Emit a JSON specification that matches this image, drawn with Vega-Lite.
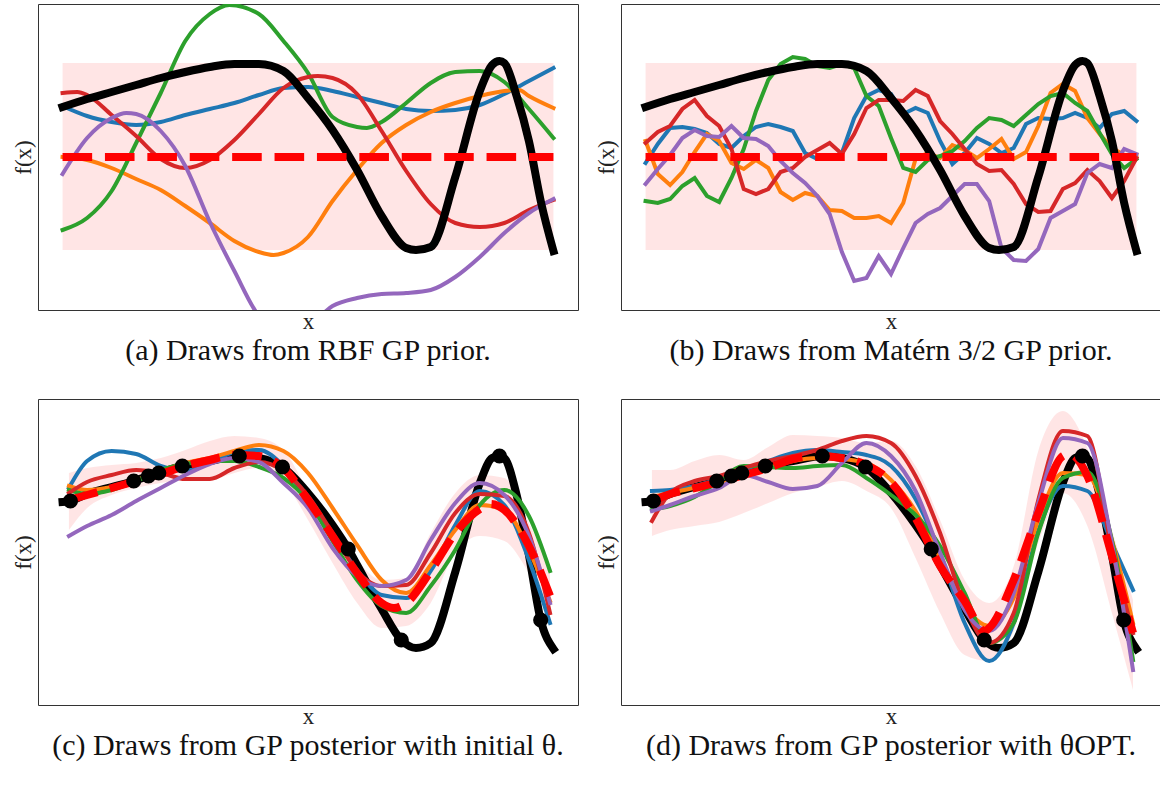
{
"$schema": "https://vega.github.io/schema/vega-lite/v6.json",
"background": "white",
"padding": {"left": 11, "top": 3, "right": 0, "bottom": 0},
"config": {
  "view": {"stroke": "#333", "strokeWidth": 1},
  "axis": {"ticks": false, "labels": false, "domain": false, "grid": false, "titleFont": "Liberation Serif", "titleFontSize": 23, "titleFontWeight": "normal", "titleColor": "#222"},
  "title": {"font": "Liberation Serif", "fontSize": 30, "fontWeight": "normal", "color": "#111", "orient": "bottom", "frame": "group", "anchor": "middle", "offset": 3}
},
"datasets": {
  "prior_band": [{"x":0,"y":60,"y2":247},{"x":1,"y":60,"y2":247}],
  "prior_mean": [{"x":0,"y":153},{"x":1,"y":153}],
  "prior_black": [{"x":0,"y":203},{"x":0.05,"y":211},{"x":0.1,"y":218},{"x":0.15,"y":225},{"x":0.2,"y":232},{"x":0.25,"y":238},{"x":0.3,"y":243},{"x":0.35,"y":246},{"x":0.4,"y":246},{"x":0.45,"y":239},{"x":0.5,"y":212},{"x":0.55,"y":180},{"x":0.6,"y":140},{"x":0.65,"y":94},{"x":0.7,"y":62},{"x":0.72,"y":60},{"x":0.75,"y":63},{"x":0.8,"y":133},{"x":0.85,"y":219},{"x":0.875,"y":245},{"x":0.89,"y":249},{"x":0.9,"y":247},{"x":0.925,"y":214},{"x":0.95,"y":169},{"x":0.975,"y":107},{"x":1,"y":59}],
  "a": [
    {"s":"1","x":0,"y":204},{"s":"1","x":0.05,"y":194},{"s":"1","x":0.1,"y":188},{"s":"1","x":0.15,"y":185},{"s":"1","x":0.2,"y":188},{"s":"1","x":0.25,"y":195},{"s":"1","x":0.3,"y":201},{"s":"1","x":0.35,"y":207},{"s":"1","x":0.4,"y":215},{"s":"1","x":0.45,"y":222},{"s":"1","x":0.5,"y":223},{"s":"1","x":0.55,"y":219},{"s":"1","x":0.6,"y":213},{"s":"1","x":0.65,"y":207},{"s":"1","x":0.7,"y":201},{"s":"1","x":0.75,"y":199},{"s":"1","x":0.8,"y":200},{"s":"1","x":0.85,"y":205},{"s":"1","x":0.9,"y":216},{"s":"1","x":0.95,"y":229},{"s":"1","x":1,"y":242},
    {"s":"2","x":0,"y":153},{"s":"2","x":0.05,"y":150},{"s":"2","x":0.1,"y":142},{"s":"2","x":0.15,"y":131},{"s":"2","x":0.2,"y":120},{"s":"2","x":0.25,"y":104},{"s":"2","x":0.3,"y":87},{"s":"2","x":0.35,"y":69},{"s":"2","x":0.4,"y":58},{"s":"2","x":0.43,"y":55},{"s":"2","x":0.45,"y":57},{"s":"2","x":0.5,"y":73},{"s":"2","x":0.55,"y":109},{"s":"2","x":0.6,"y":140},{"s":"2","x":0.65,"y":167},{"s":"2","x":0.7,"y":185},{"s":"2","x":0.75,"y":198},{"s":"2","x":0.8,"y":207},{"s":"2","x":0.85,"y":214},{"s":"2","x":0.9,"y":219},{"s":"2","x":0.93,"y":220},{"s":"2","x":0.95,"y":214},{"s":"2","x":1,"y":202},
    {"s":"3","x":0,"y":80},{"s":"3","x":0.05,"y":92},{"s":"3","x":0.1,"y":119},{"s":"3","x":0.15,"y":167},{"s":"3","x":0.2,"y":217},{"s":"3","x":0.25,"y":269},{"s":"3","x":0.3,"y":296},{"s":"3","x":0.34,"y":305},{"s":"3","x":0.4,"y":296},{"s":"3","x":0.45,"y":269},{"s":"3","x":0.5,"y":237},{"s":"3","x":0.55,"y":193},{"s":"3","x":0.6,"y":183},{"s":"3","x":0.62,"y":182},{"s":"3","x":0.65,"y":188},{"s":"3","x":0.7,"y":207},{"s":"3","x":0.75,"y":227},{"s":"3","x":0.8,"y":238},{"s":"3","x":0.85,"y":239},{"s":"3","x":0.9,"y":228},{"s":"3","x":0.95,"y":201},{"s":"3","x":1,"y":172},
    {"s":"4","x":0,"y":217},{"s":"4","x":0.03,"y":218},{"s":"4","x":0.05,"y":215},{"s":"4","x":0.1,"y":195},{"s":"4","x":0.15,"y":174},{"s":"4","x":0.2,"y":151},{"s":"4","x":0.25,"y":142},{"s":"4","x":0.3,"y":150},{"s":"4","x":0.35,"y":170},{"s":"4","x":0.4,"y":196},{"s":"4","x":0.45,"y":222},{"s":"4","x":0.5,"y":233},{"s":"4","x":0.52,"y":234},{"s":"4","x":0.55,"y":232},{"s":"4","x":0.6,"y":216},{"s":"4","x":0.65,"y":179},{"s":"4","x":0.7,"y":139},{"s":"4","x":0.75,"y":106},{"s":"4","x":0.8,"y":87},{"s":"4","x":0.85,"y":83},{"s":"4","x":0.9,"y":87},{"s":"4","x":0.95,"y":100},{"s":"4","x":1,"y":110},
    {"s":"5","x":0,"y":136},{"s":"5","x":0.05,"y":172},{"s":"5","x":0.1,"y":192},{"s":"5","x":0.13,"y":197},{"s":"5","x":0.15,"y":196},{"s":"5","x":0.2,"y":179},{"s":"5","x":0.25,"y":144},{"s":"5","x":0.3,"y":88},{"s":"5","x":0.35,"y":39},{"s":"5","x":0.4,"y":-6},{"s":"5","x":0.45,"y":-21},{"s":"5","x":0.5,"y":-16},{"s":"5","x":0.55,"y":4},{"s":"5","x":0.6,"y":12},{"s":"5","x":0.65,"y":16},{"s":"5","x":0.7,"y":17},{"s":"5","x":0.75,"y":20},{"s":"5","x":0.8,"y":33},{"s":"5","x":0.85,"y":53},{"s":"5","x":0.9,"y":77},{"s":"5","x":0.95,"y":97},{"s":"5","x":1,"y":111}
  ],
  "b": [
    {"s":"1","x":0,"y":147},{"s":"1","x":0.025,"y":166},{"s":"1","x":0.05,"y":182},{"s":"1","x":0.075,"y":183},{"s":"1","x":0.1,"y":181},{"s":"1","x":0.125,"y":177},{"s":"1","x":0.15,"y":166},{"s":"1","x":0.175,"y":162},{"s":"1","x":0.2,"y":174},{"s":"1","x":0.225,"y":183},{"s":"1","x":0.25,"y":186},{"s":"1","x":0.275,"y":183},{"s":"1","x":0.3,"y":179},{"s":"1","x":0.325,"y":157},{"s":"1","x":0.35,"y":151},{"s":"1","x":0.375,"y":152},{"s":"1","x":0.4,"y":157},{"s":"1","x":0.425,"y":192},{"s":"1","x":0.45,"y":214},{"s":"1","x":0.475,"y":220},{"s":"1","x":0.5,"y":216},{"s":"1","x":0.525,"y":196},{"s":"1","x":0.55,"y":202},{"s":"1","x":0.575,"y":197},{"s":"1","x":0.6,"y":169},{"s":"1","x":0.625,"y":146},{"s":"1","x":0.65,"y":157},{"s":"1","x":0.675,"y":172},{"s":"1","x":0.7,"y":166},{"s":"1","x":0.725,"y":157},{"s":"1","x":0.75,"y":162},{"s":"1","x":0.775,"y":186},{"s":"1","x":0.8,"y":192},{"s":"1","x":0.825,"y":191},{"s":"1","x":0.85,"y":192},{"s":"1","x":0.875,"y":197},{"s":"1","x":0.9,"y":192},{"s":"1","x":0.925,"y":182},{"s":"1","x":0.95,"y":196},{"s":"1","x":0.975,"y":199},{"s":"1","x":1,"y":189},
    {"s":"2","x":0,"y":169},{"s":"2","x":0.025,"y":136},{"s":"2","x":0.05,"y":125},{"s":"2","x":0.075,"y":138},{"s":"2","x":0.1,"y":158},{"s":"2","x":0.125,"y":176},{"s":"2","x":0.15,"y":169},{"s":"2","x":0.175,"y":147},{"s":"2","x":0.2,"y":141},{"s":"2","x":0.225,"y":150},{"s":"2","x":0.25,"y":142},{"s":"2","x":0.275,"y":118},{"s":"2","x":0.3,"y":110},{"s":"2","x":0.325,"y":117},{"s":"2","x":0.35,"y":114},{"s":"2","x":0.375,"y":100},{"s":"2","x":0.4,"y":99},{"s":"2","x":0.425,"y":92},{"s":"2","x":0.45,"y":92},{"s":"2","x":0.475,"y":94},{"s":"2","x":0.5,"y":87},{"s":"2","x":0.525,"y":107},{"s":"2","x":0.55,"y":151},{"s":"2","x":0.575,"y":157},{"s":"2","x":0.6,"y":152},{"s":"2","x":0.625,"y":165},{"s":"2","x":0.65,"y":160},{"s":"2","x":0.675,"y":152},{"s":"2","x":0.7,"y":161},{"s":"2","x":0.725,"y":171},{"s":"2","x":0.75,"y":151},{"s":"2","x":0.775,"y":158},{"s":"2","x":0.8,"y":184},{"s":"2","x":0.825,"y":217},{"s":"2","x":0.85,"y":226},{"s":"2","x":0.875,"y":219},{"s":"2","x":0.9,"y":192},{"s":"2","x":0.925,"y":176},{"s":"2","x":0.95,"y":162},{"s":"2","x":0.975,"y":155},{"s":"2","x":1,"y":155},
    {"s":"3","x":0,"y":109},{"s":"3","x":0.025,"y":107},{"s":"3","x":0.05,"y":111},{"s":"3","x":0.075,"y":124},{"s":"3","x":0.1,"y":132},{"s":"3","x":0.125,"y":114},{"s":"3","x":0.15,"y":108},{"s":"3","x":0.175,"y":132},{"s":"3","x":0.2,"y":161},{"s":"3","x":0.225,"y":199},{"s":"3","x":0.25,"y":230},{"s":"3","x":0.275,"y":246},{"s":"3","x":0.3,"y":253},{"s":"3","x":0.325,"y":251},{"s":"3","x":0.35,"y":244},{"s":"3","x":0.375,"y":242},{"s":"3","x":0.4,"y":246},{"s":"3","x":0.425,"y":242},{"s":"3","x":0.45,"y":214},{"s":"3","x":0.475,"y":204},{"s":"3","x":0.5,"y":172},{"s":"3","x":0.525,"y":142},{"s":"3","x":0.55,"y":138},{"s":"3","x":0.575,"y":150},{"s":"3","x":0.6,"y":154},{"s":"3","x":0.625,"y":159},{"s":"3","x":0.65,"y":169},{"s":"3","x":0.675,"y":182},{"s":"3","x":0.7,"y":192},{"s":"3","x":0.725,"y":190},{"s":"3","x":0.75,"y":184},{"s":"3","x":0.775,"y":195},{"s":"3","x":0.8,"y":206},{"s":"3","x":0.825,"y":214},{"s":"3","x":0.85,"y":217},{"s":"3","x":0.875,"y":207},{"s":"3","x":0.9,"y":199},{"s":"3","x":0.925,"y":177},{"s":"3","x":0.95,"y":156},{"s":"3","x":0.975,"y":142},{"s":"3","x":1,"y":151},
    {"s":"4","x":0,"y":167},{"s":"4","x":0.025,"y":178},{"s":"4","x":0.05,"y":184},{"s":"4","x":0.075,"y":201},{"s":"4","x":0.1,"y":210},{"s":"4","x":0.125,"y":194},{"s":"4","x":0.15,"y":184},{"s":"4","x":0.175,"y":161},{"s":"4","x":0.2,"y":121},{"s":"4","x":0.225,"y":116},{"s":"4","x":0.25,"y":121},{"s":"4","x":0.275,"y":138},{"s":"4","x":0.3,"y":142},{"s":"4","x":0.325,"y":153},{"s":"4","x":0.35,"y":160},{"s":"4","x":0.375,"y":167},{"s":"4","x":0.4,"y":156},{"s":"4","x":0.425,"y":176},{"s":"4","x":0.45,"y":202},{"s":"4","x":0.475,"y":210},{"s":"4","x":0.5,"y":210},{"s":"4","x":0.525,"y":209},{"s":"4","x":0.55,"y":220},{"s":"4","x":0.575,"y":214},{"s":"4","x":0.6,"y":189},{"s":"4","x":0.625,"y":176},{"s":"4","x":0.65,"y":161},{"s":"4","x":0.675,"y":146},{"s":"4","x":0.7,"y":139},{"s":"4","x":0.725,"y":140},{"s":"4","x":0.75,"y":126},{"s":"4","x":0.775,"y":106},{"s":"4","x":0.8,"y":98},{"s":"4","x":0.825,"y":99},{"s":"4","x":0.85,"y":121},{"s":"4","x":0.875,"y":127},{"s":"4","x":0.9,"y":140},{"s":"4","x":0.925,"y":129},{"s":"4","x":0.95,"y":112},{"s":"4","x":0.975,"y":129},{"s":"4","x":1,"y":152},
    {"s":"5","x":0,"y":126},{"s":"5","x":0.025,"y":141},{"s":"5","x":0.05,"y":155},{"s":"5","x":0.075,"y":172},{"s":"5","x":0.1,"y":180},{"s":"5","x":0.125,"y":174},{"s":"5","x":0.15,"y":173},{"s":"5","x":0.175,"y":184},{"s":"5","x":0.2,"y":172},{"s":"5","x":0.225,"y":171},{"s":"5","x":0.25,"y":164},{"s":"5","x":0.275,"y":149},{"s":"5","x":0.3,"y":137},{"s":"5","x":0.325,"y":127},{"s":"5","x":0.35,"y":114},{"s":"5","x":0.375,"y":96},{"s":"5","x":0.4,"y":58},{"s":"5","x":0.425,"y":29},{"s":"5","x":0.45,"y":32},{"s":"5","x":0.475,"y":54},{"s":"5","x":0.5,"y":36},{"s":"5","x":0.525,"y":62},{"s":"5","x":0.55,"y":87},{"s":"5","x":0.575,"y":96},{"s":"5","x":0.6,"y":102},{"s":"5","x":0.625,"y":114},{"s":"5","x":0.65,"y":126},{"s":"5","x":0.675,"y":126},{"s":"5","x":0.7,"y":109},{"s":"5","x":0.725,"y":62},{"s":"5","x":0.75,"y":50},{"s":"5","x":0.775,"y":49},{"s":"5","x":0.8,"y":61},{"s":"5","x":0.825,"y":92},{"s":"5","x":0.85,"y":99},{"s":"5","x":0.875,"y":106},{"s":"5","x":0.9,"y":137},{"s":"5","x":0.925,"y":146},{"s":"5","x":0.95,"y":142},{"s":"5","x":0.975,"y":161},{"s":"5","x":1,"y":156}
  ],
  "post_black": [{"x":0,"y":203},{"x":0.016,"y":204},{"x":0.05,"y":211},{"x":0.1,"y":218},{"x":0.145,"y":224},{"x":0.175,"y":229},{"x":0.196,"y":232},{"x":0.244,"y":239},{"x":0.3,"y":244},{"x":0.36,"y":249},{"x":0.4,"y":247},{"x":0.448,"y":238},{"x":0.5,"y":212},{"x":0.55,"y":180},{"x":0.582,"y":156},{"x":0.6,"y":140},{"x":0.65,"y":96},{"x":0.69,"y":65},{"x":0.72,"y":57},{"x":0.75,"y":62},{"x":0.8,"y":133},{"x":0.85,"y":222},{"x":0.875,"y":247},{"x":0.89,"y":249},{"x":0.9,"y":247},{"x":0.925,"y":210},{"x":0.95,"y":150},{"x":0.974,"y":85},{"x":1,"y":56}],
  "obs": [{"x":0.016,"y":204},{"x":0.145,"y":224},{"x":0.175,"y":229},{"x":0.196,"y":232},{"x":0.244,"y":239},{"x":0.36,"y":249},{"x":0.448,"y":238},{"x":0.582,"y":156},{"x":0.69,"y":65},{"x":0.89,"y":249},{"x":0.974,"y":85}],
  "c_band": [{"x":0.013,"y":175,"y2":232},{"x":0.05,"y":197,"y2":237},{"x":0.1,"y":210,"y2":240},{"x":0.15,"y":217,"y2":242},{"x":0.2,"y":222,"y2":247},{"x":0.25,"y":225,"y2":255},{"x":0.3,"y":225,"y2":264},{"x":0.35,"y":232,"y2":269},{"x":0.4,"y":237,"y2":267},{"x":0.45,"y":224,"y2":255},{"x":0.5,"y":185,"y2":215},{"x":0.55,"y":142,"y2":182},{"x":0.6,"y":102,"y2":145},{"x":0.65,"y":77,"y2":125},{"x":0.7,"y":79,"y2":127},{"x":0.75,"y":102,"y2":172},{"x":0.8,"y":152,"y2":212},{"x":0.85,"y":169,"y2":230},{"x":0.9,"y":164,"y2":227},{"x":0.95,"y":132,"y2":182},{"x":0.993,"y":95,"y2":139}],
  "c_mean": [{"x":0.013,"y":205},{"x":0.05,"y":210},{"x":0.1,"y":217},{"x":0.15,"y":224},{"x":0.2,"y":231},{"x":0.25,"y":239},{"x":0.3,"y":245},{"x":0.35,"y":250},{"x":0.4,"y":249},{"x":0.45,"y":237},{"x":0.5,"y":205},{"x":0.55,"y":169},{"x":0.6,"y":132},{"x":0.65,"y":102},{"x":0.675,"y":97},{"x":0.7,"y":102},{"x":0.75,"y":134},{"x":0.8,"y":172},{"x":0.85,"y":196},{"x":0.872,"y":201},{"x":0.9,"y":195},{"x":0.95,"y":159},{"x":0.993,"y":109}],
  "c": [
    {"s":"1","x":0.013,"y":217},{"s":"1","x":0.05,"y":244},{"s":"1","x":0.1,"y":254},{"s":"1","x":0.15,"y":251},{"s":"1","x":0.2,"y":239},{"s":"1","x":0.25,"y":234},{"s":"1","x":0.3,"y":242},{"s":"1","x":0.35,"y":253},{"s":"1","x":0.4,"y":255},{"s":"1","x":0.45,"y":239},{"s":"1","x":0.5,"y":205},{"s":"1","x":0.55,"y":170},{"s":"1","x":0.6,"y":135},{"s":"1","x":0.65,"y":110},{"s":"1","x":0.7,"y":107},{"s":"1","x":0.75,"y":134},{"s":"1","x":0.8,"y":180},{"s":"1","x":0.85,"y":214},{"s":"1","x":0.9,"y":200},{"s":"1","x":0.95,"y":145},{"s":"1","x":0.993,"y":82},
    {"s":"2","x":0.013,"y":219},{"s":"2","x":0.05,"y":215},{"s":"2","x":0.1,"y":218},{"s":"2","x":0.15,"y":225},{"s":"2","x":0.2,"y":234},{"s":"2","x":0.25,"y":242},{"s":"2","x":0.3,"y":247},{"s":"2","x":0.35,"y":254},{"s":"2","x":0.4,"y":260},{"s":"2","x":0.45,"y":254},{"s":"2","x":0.5,"y":232},{"s":"2","x":0.55,"y":197},{"s":"2","x":0.6,"y":160},{"s":"2","x":0.65,"y":125},{"s":"2","x":0.7,"y":112},{"s":"2","x":0.75,"y":140},{"s":"2","x":0.8,"y":175},{"s":"2","x":0.85,"y":200},{"s":"2","x":0.9,"y":195},{"s":"2","x":0.95,"y":155},{"s":"2","x":0.993,"y":104},
    {"s":"3","x":0.013,"y":215},{"s":"3","x":0.05,"y":211},{"s":"3","x":0.1,"y":215},{"s":"3","x":0.15,"y":224},{"s":"3","x":0.2,"y":235},{"s":"3","x":0.25,"y":241},{"s":"3","x":0.3,"y":244},{"s":"3","x":0.35,"y":244},{"s":"3","x":0.4,"y":238},{"s":"3","x":0.45,"y":227},{"s":"3","x":0.5,"y":204},{"s":"3","x":0.55,"y":164},{"s":"3","x":0.6,"y":125},{"s":"3","x":0.65,"y":99},{"s":"3","x":0.7,"y":92},{"s":"3","x":0.75,"y":119},{"s":"3","x":0.8,"y":155},{"s":"3","x":0.85,"y":200},{"s":"3","x":0.9,"y":215},{"s":"3","x":0.95,"y":189},{"s":"3","x":0.993,"y":134},
    {"s":"4","x":0.013,"y":212},{"s":"4","x":0.05,"y":223},{"s":"4","x":0.1,"y":230},{"s":"4","x":0.15,"y":235},{"s":"4","x":0.2,"y":232},{"s":"4","x":0.25,"y":226},{"s":"4","x":0.3,"y":226},{"s":"4","x":0.35,"y":237},{"s":"4","x":0.4,"y":243},{"s":"4","x":0.45,"y":234},{"s":"4","x":0.5,"y":209},{"s":"4","x":0.55,"y":172},{"s":"4","x":0.6,"y":134},{"s":"4","x":0.65,"y":119},{"s":"4","x":0.7,"y":120},{"s":"4","x":0.75,"y":152},{"s":"4","x":0.8,"y":192},{"s":"4","x":0.85,"y":211},{"s":"4","x":0.9,"y":209},{"s":"4","x":0.95,"y":172},{"s":"4","x":0.993,"y":92},
    {"s":"5","x":0.013,"y":169},{"s":"5","x":0.05,"y":179},{"s":"5","x":0.1,"y":190},{"s":"5","x":0.15,"y":204},{"s":"5","x":0.2,"y":217},{"s":"5","x":0.25,"y":230},{"s":"5","x":0.3,"y":241},{"s":"5","x":0.35,"y":247},{"s":"5","x":0.4,"y":243},{"s":"5","x":0.45,"y":222},{"s":"5","x":0.5,"y":197},{"s":"5","x":0.55,"y":157},{"s":"5","x":0.6,"y":129},{"s":"5","x":0.65,"y":119},{"s":"5","x":0.7,"y":125},{"s":"5","x":0.75,"y":165},{"s":"5","x":0.8,"y":202},{"s":"5","x":0.85,"y":222},{"s":"5","x":0.9,"y":210},{"s":"5","x":0.95,"y":169},{"s":"5","x":0.993,"y":102}
  ],
  "d_band": [{"x":0.013,"y":169,"y2":235},{"x":0.05,"y":175,"y2":235},{"x":0.1,"y":179,"y2":244},{"x":0.15,"y":183,"y2":250},{"x":0.2,"y":192,"y2":245},{"x":0.25,"y":202,"y2":258},{"x":0.3,"y":212,"y2":270},{"x":0.35,"y":218,"y2":269},{"x":0.4,"y":224,"y2":267},{"x":0.45,"y":214,"y2":262},{"x":0.5,"y":197,"y2":264},{"x":0.55,"y":147,"y2":239},{"x":0.6,"y":92,"y2":185},{"x":0.65,"y":50,"y2":125},{"x":0.7,"y":44,"y2":102},{"x":0.75,"y":74,"y2":139},{"x":0.8,"y":162,"y2":254},{"x":0.85,"y":212,"y2":294},{"x":0.9,"y":179,"y2":257},{"x":0.95,"y":92,"y2":175},{"x":0.993,"y":15,"y2":105}],
  "d_mean": [{"x":0.013,"y":204},{"x":0.05,"y":211},{"x":0.1,"y":217},{"x":0.15,"y":223},{"x":0.2,"y":230},{"x":0.25,"y":237},{"x":0.3,"y":246},{"x":0.35,"y":249},{"x":0.4,"y":247},{"x":0.45,"y":240},{"x":0.5,"y":223},{"x":0.55,"y":187},{"x":0.6,"y":139},{"x":0.65,"y":104},{"x":0.691,"y":74},{"x":0.7,"y":77},{"x":0.75,"y":125},{"x":0.8,"y":192},{"x":0.85,"y":249},{"x":0.864,"y":251},{"x":0.9,"y":229},{"x":0.95,"y":149},{"x":0.993,"y":72}],
  "d": [
    {"s":"1","x":0.013,"y":214},{"s":"1","x":0.05,"y":215},{"s":"1","x":0.1,"y":219},{"s":"1","x":0.15,"y":226},{"s":"1","x":0.2,"y":235},{"s":"1","x":0.25,"y":244},{"s":"1","x":0.3,"y":252},{"s":"1","x":0.35,"y":255},{"s":"1","x":0.4,"y":253},{"s":"1","x":0.45,"y":250},{"s":"1","x":0.5,"y":239},{"s":"1","x":0.55,"y":206},{"s":"1","x":0.6,"y":152},{"s":"1","x":0.65,"y":82},{"s":"1","x":0.7,"y":44},{"s":"1","x":0.75,"y":82},{"s":"1","x":0.8,"y":174},{"s":"1","x":0.85,"y":219},{"s":"1","x":0.9,"y":214},{"s":"1","x":0.95,"y":162},{"s":"1","x":0.993,"y":115},
    {"s":"2","x":0.013,"y":208},{"s":"2","x":0.05,"y":212},{"s":"2","x":0.1,"y":217},{"s":"2","x":0.15,"y":220},{"s":"2","x":0.2,"y":229},{"s":"2","x":0.25,"y":237},{"s":"2","x":0.3,"y":244},{"s":"2","x":0.35,"y":247},{"s":"2","x":0.4,"y":246},{"s":"2","x":0.45,"y":242},{"s":"2","x":0.5,"y":225},{"s":"2","x":0.55,"y":194},{"s":"2","x":0.6,"y":147},{"s":"2","x":0.65,"y":99},{"s":"2","x":0.7,"y":79},{"s":"2","x":0.75,"y":107},{"s":"2","x":0.8,"y":185},{"s":"2","x":0.85,"y":232},{"s":"2","x":0.9,"y":230},{"s":"2","x":0.95,"y":165},{"s":"2","x":0.993,"y":82},
    {"s":"3","x":0.013,"y":195},{"s":"3","x":0.05,"y":199},{"s":"3","x":0.1,"y":208},{"s":"3","x":0.15,"y":224},{"s":"3","x":0.2,"y":239},{"s":"3","x":0.25,"y":238},{"s":"3","x":0.3,"y":237},{"s":"3","x":0.35,"y":239},{"s":"3","x":0.4,"y":240},{"s":"3","x":0.45,"y":227},{"s":"3","x":0.5,"y":210},{"s":"3","x":0.55,"y":190},{"s":"3","x":0.6,"y":159},{"s":"3","x":0.65,"y":112},{"s":"3","x":0.7,"y":62},{"s":"3","x":0.75,"y":82},{"s":"3","x":0.8,"y":172},{"s":"3","x":0.85,"y":227},{"s":"3","x":0.9,"y":233},{"s":"3","x":0.95,"y":165},{"s":"3","x":0.993,"y":45},
    {"s":"4","x":0.013,"y":184},{"s":"4","x":0.05,"y":212},{"s":"4","x":0.1,"y":224},{"s":"4","x":0.15,"y":229},{"s":"4","x":0.2,"y":237},{"s":"4","x":0.25,"y":244},{"s":"4","x":0.3,"y":249},{"s":"4","x":0.35,"y":255},{"s":"4","x":0.4,"y":264},{"s":"4","x":0.45,"y":269},{"s":"4","x":0.5,"y":262},{"s":"4","x":0.55,"y":229},{"s":"4","x":0.6,"y":172},{"s":"4","x":0.65,"y":99},{"s":"4","x":0.7,"y":62},{"s":"4","x":0.75,"y":92},{"s":"4","x":0.8,"y":205},{"s":"4","x":0.85,"y":274},{"s":"4","x":0.9,"y":269},{"s":"4","x":0.95,"y":155},{"s":"4","x":0.993,"y":72},
    {"s":"5","x":0.013,"y":194},{"s":"5","x":0.05,"y":200},{"s":"5","x":0.1,"y":209},{"s":"5","x":0.15,"y":217},{"s":"5","x":0.2,"y":230},{"s":"5","x":0.25,"y":223},{"s":"5","x":0.3,"y":216},{"s":"5","x":0.35,"y":219},{"s":"5","x":0.4,"y":242},{"s":"5","x":0.45,"y":262},{"s":"5","x":0.5,"y":249},{"s":"5","x":0.55,"y":214},{"s":"5","x":0.6,"y":152},{"s":"5","x":0.65,"y":95},{"s":"5","x":0.7,"y":74},{"s":"5","x":0.75,"y":112},{"s":"5","x":0.8,"y":202},{"s":"5","x":0.85,"y":267},{"s":"5","x":0.9,"y":262},{"s":"5","x":0.95,"y":162},{"s":"5","x":0.993,"y":35}
  ]
},
"columns": 2,
"spacing": {"row": 31, "column": 15},
"concat": [
  {
    "width": 540, "height": 306,
    "title": "(a) Draws from RBF GP prior.",
    "encoding": {
      "x": {"field": "x", "type": "quantitative", "scale": {"domain": [-0.05, 1.05], "nice": false, "zero": false}, "axis": {"title": "x", "titleFont": "Liberation Serif", "titleFontSize": 23, "titlePadding": 0}},
      "y": {"field": "y", "type": "quantitative", "scale": {"domain": [0, 306], "nice": false, "zero": false}, "axis": {"title": "f(x)", "titleFont": "Liberation Serif", "titleFontSize": 23, "titlePadding": 3}}
    },
    "layer": [
      {"data": {"name": "prior_band"}, "mark": {"type": "area", "color": "#ff0000", "opacity": 0.1}, "encoding": {"y2": {"field": "y2"}}},
      {"data": {"name": "a"}, "mark": {"type": "line", "strokeWidth": 4, "strokeCap": "square", "interpolate": "monotone", "clip": true}, "encoding": {"color": {"field": "s", "type": "nominal", "scale": {"domain": ["1","2","3","4","5"], "range": ["#1f77b4","#ff7f0e","#2ca02c","#d62728","#9467bd"]}, "legend": null}}},
      {"data": {"name": "prior_black"}, "mark": {"type": "line", "color": "black", "strokeWidth": 8, "strokeCap": "square", "interpolate": "monotone", "clip": true}, "encoding": {}},
      {"data": {"name": "prior_mean"}, "mark": {"type": "line", "color": "#ff0000", "strokeWidth": 8, "strokeDash": [29.6, 12.8], "clip": true}, "encoding": {}}
    ]
  },
  {
    "width": 540, "height": 306,
    "title": "(b) Draws from Matérn 3/2 GP prior.",
    "encoding": {
      "x": {"field": "x", "type": "quantitative", "scale": {"domain": [-0.05, 1.05], "nice": false, "zero": false}, "axis": {"title": "x", "titleFont": "Liberation Serif", "titleFontSize": 23, "titlePadding": 0}},
      "y": {"field": "y", "type": "quantitative", "scale": {"domain": [0, 306], "nice": false, "zero": false}, "axis": {"title": "f(x)", "titleFont": "Liberation Serif", "titleFontSize": 23, "titlePadding": 3}}
    },
    "layer": [
      {"data": {"name": "prior_band"}, "mark": {"type": "area", "color": "#ff0000", "opacity": 0.1}, "encoding": {"y2": {"field": "y2"}}},
      {"data": {"name": "b"}, "mark": {"type": "line", "strokeWidth": 4, "strokeCap": "square", "clip": true}, "encoding": {"color": {"field": "s", "type": "nominal", "scale": {"domain": ["1","2","3","4","5"], "range": ["#1f77b4","#ff7f0e","#2ca02c","#d62728","#9467bd"]}, "legend": null}}},
      {"data": {"name": "prior_black"}, "mark": {"type": "line", "color": "black", "strokeWidth": 8, "strokeCap": "square", "interpolate": "monotone", "clip": true}, "encoding": {}},
      {"data": {"name": "prior_mean"}, "mark": {"type": "line", "color": "#ff0000", "strokeWidth": 8, "strokeDash": [29.6, 12.8], "clip": true}, "encoding": {}}
    ]
  },
  {
    "width": 540, "height": 306,
    "title": "(c) Draws from GP posterior with initial θ.",
    "encoding": {
      "x": {"field": "x", "type": "quantitative", "scale": {"domain": [-0.05, 1.05], "nice": false, "zero": false}, "axis": {"title": "x", "titleFont": "Liberation Serif", "titleFontSize": 23, "titlePadding": 0}},
      "y": {"field": "y", "type": "quantitative", "scale": {"domain": [0, 306], "nice": false, "zero": false}, "axis": {"title": "f(x)", "titleFont": "Liberation Serif", "titleFontSize": 23, "titlePadding": 3}}
    },
    "layer": [
      {"data": {"name": "c_band"}, "mark": {"type": "area", "color": "#ff0000", "opacity": 0.1, "interpolate": "monotone"}, "encoding": {"y2": {"field": "y2"}}},
      {"data": {"name": "post_black"}, "mark": {"type": "line", "color": "black", "strokeWidth": 8, "strokeCap": "square", "interpolate": "monotone", "clip": true}, "encoding": {}},
      {"data": {"name": "c"}, "mark": {"type": "line", "strokeWidth": 4, "strokeCap": "square", "interpolate": "monotone", "clip": true}, "encoding": {"color": {"field": "s", "type": "nominal", "scale": {"domain": ["1","2","3","4","5"], "range": ["#1f77b4","#ff7f0e","#2ca02c","#d62728","#9467bd"]}, "legend": null}}},
      {"data": {"name": "c_mean"}, "mark": {"type": "line", "color": "#ff0000", "strokeWidth": 8, "strokeDash": [29.6, 12.8], "interpolate": "monotone", "clip": true}, "encoding": {}},
      {"data": {"name": "obs"}, "mark": {"type": "circle", "color": "black", "opacity": 1, "size": 230}, "encoding": {}}
    ]
  },
  {
    "width": 540, "height": 306,
    "title": "(d) Draws from GP posterior with θOPT.",
    "encoding": {
      "x": {"field": "x", "type": "quantitative", "scale": {"domain": [-0.05, 1.05], "nice": false, "zero": false}, "axis": {"title": "x", "titleFont": "Liberation Serif", "titleFontSize": 23, "titlePadding": 0}},
      "y": {"field": "y", "type": "quantitative", "scale": {"domain": [0, 306], "nice": false, "zero": false}, "axis": {"title": "f(x)", "titleFont": "Liberation Serif", "titleFontSize": 23, "titlePadding": 3}}
    },
    "layer": [
      {"data": {"name": "d_band"}, "mark": {"type": "area", "color": "#ff0000", "opacity": 0.1, "interpolate": "monotone"}, "encoding": {"y2": {"field": "y2"}}},
      {"data": {"name": "post_black"}, "mark": {"type": "line", "color": "black", "strokeWidth": 8, "strokeCap": "square", "interpolate": "monotone", "clip": true}, "encoding": {}},
      {"data": {"name": "d"}, "mark": {"type": "line", "strokeWidth": 4, "strokeCap": "square", "interpolate": "monotone", "clip": true}, "encoding": {"color": {"field": "s", "type": "nominal", "scale": {"domain": ["1","2","3","4","5"], "range": ["#1f77b4","#ff7f0e","#2ca02c","#d62728","#9467bd"]}, "legend": null}}},
      {"data": {"name": "d_mean"}, "mark": {"type": "line", "color": "#ff0000", "strokeWidth": 8, "strokeDash": [29.6, 12.8], "interpolate": "monotone", "clip": true}, "encoding": {}},
      {"data": {"name": "obs"}, "mark": {"type": "circle", "color": "black", "opacity": 1, "size": 230}, "encoding": {}}
    ]
  }
]
}
